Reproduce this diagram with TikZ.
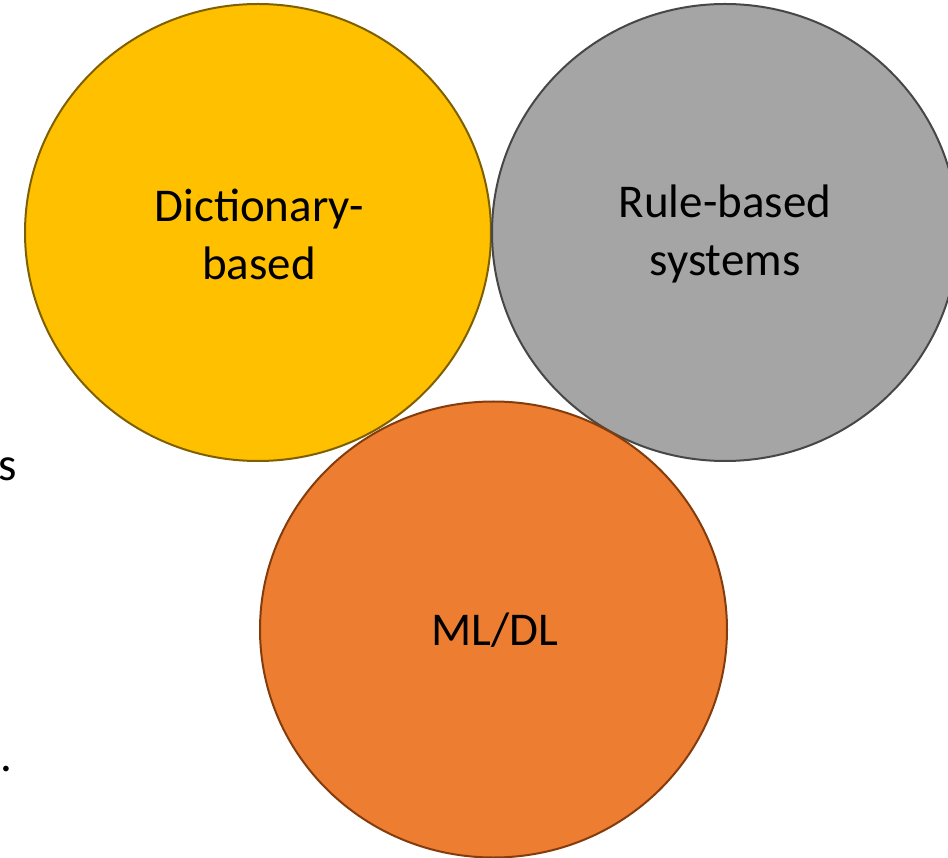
\documentclass[tikz,border=0pt]{standalone}
\usepackage{fontspec}
\setmainfont{Carlito}
\definecolor{cyellow}{HTML}{FFC000}
\definecolor{cyellowb}{HTML}{7F6000}
\definecolor{cgray}{HTML}{A5A5A5}
\definecolor{cgrayb}{HTML}{474747}
\definecolor{corange}{HTML}{ED7D31}
\definecolor{corangeb}{HTML}{843C0C}
\begin{document}
\begin{tikzpicture}[x=1pt,y=-1pt,
  blob/.style={line width=2pt},
  lbl/.style={font=\fontsize{47}{58}\selectfont, align=center, text=black, inner sep=0pt}]
\useasboundingbox (0,0) rectangle (948,858);
\fill[white] (0,0) rectangle (948,858);
\draw[blob, fill=cyellow, draw=cyellowb] (258,232.5) ellipse [x radius=233, y radius=228.5];
\draw[blob, fill=cgray, draw=cgrayb] (725,232.5) ellipse [x radius=233, y radius=228.5];
\draw[blob, fill=corange, draw=corangeb] (493.5,629.5) ellipse [x radius=233.5, y radius=228];
\node[lbl] (dict) at (259,234) {Dictionary-\\based};
\node[lbl] (rule) at (725,234) {Rule-based\\systems};
\node[lbl] (ml) at (495,630) {ML/DL};
\node[lbl, anchor=base west] (s) at (-2,480) {s};
\node[lbl, anchor=base west] (dot) at (0,771) {.};
\end{tikzpicture}
\end{document}
